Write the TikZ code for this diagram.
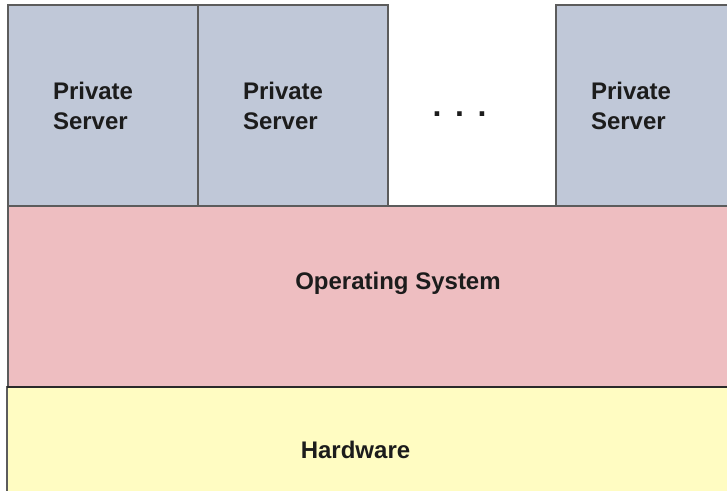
\documentclass[tikz,border=0pt]{standalone}
\usepackage{fontspec}
\setmainfont{Liberation Sans}
\definecolor{serverfill}{HTML}{C0C8D8}
\definecolor{osfill}{HTML}{EEBEC1}
\definecolor{hwfill}{HTML}{FFFCC2}
\definecolor{edgegray}{HTML}{5C5C5C}
\definecolor{edgedark}{HTML}{2A2A2A}
\definecolor{ink}{HTML}{1C1C1C}
\begin{document}
\begin{tikzpicture}[x=0.75pt,y=-0.75pt,
  layer/.style={rectangle, draw=edgegray, line width=1.1pt, inner ysep=0pt},
  server/.style={layer, fill=serverfill, minimum width=142.5pt, minimum height=150.75pt,
    align=left, font=\fontsize{18}{22.5}\selectfont\bfseries, text=ink},
  padwide/.style={inner xsep=33.75pt, text width=75pt},
  padnarrow/.style={inner xsep=26.25pt, text width=90pt},
  caption/.style={inner sep=0pt, font=\fontsize{18}{22.5}\selectfont\bfseries, text=ink}]
  \useasboundingbox (0,0) rectangle (727,490);
  \clip (0,0) rectangle (727,490);

  % lower layers, running past the right and bottom edges
  \node[layer, fill=hwfill, minimum width=557.25pt, minimum height=90pt] (hw) at (378.5,446.5) {};
  \node[layer, fill=osfill, minimum width=557.25pt, minimum height=135.375pt] (os) at (379.5,296.25) {};
  \draw[draw=edgedark, line width=1.5pt] (os.south west) -- (os.south east);

  % private servers on top of the operating system
  \node[server, padwide] (ps1) at (103,105.5) {Private\\Server};
  \node[server, padwide] (ps2) at (293,105.5) {Private\\Server};
  \node[server, padnarrow] (ps3) at (651,105.5) {Private\\Server};
  \node[caption, anchor=base, font=\fontsize{24}{24}\selectfont\bfseries] (more) at (459.5,116.5)
    {.\hspace{10.2pt}.\hspace{10.2pt}.};

  % layer captions
  \node[caption, anchor=base] (ostext) at (398,289) {Operating System};
  \node[caption, anchor=base] (hwtext) at (355.5,458) {Hardware};
\end{tikzpicture}
\end{document}
